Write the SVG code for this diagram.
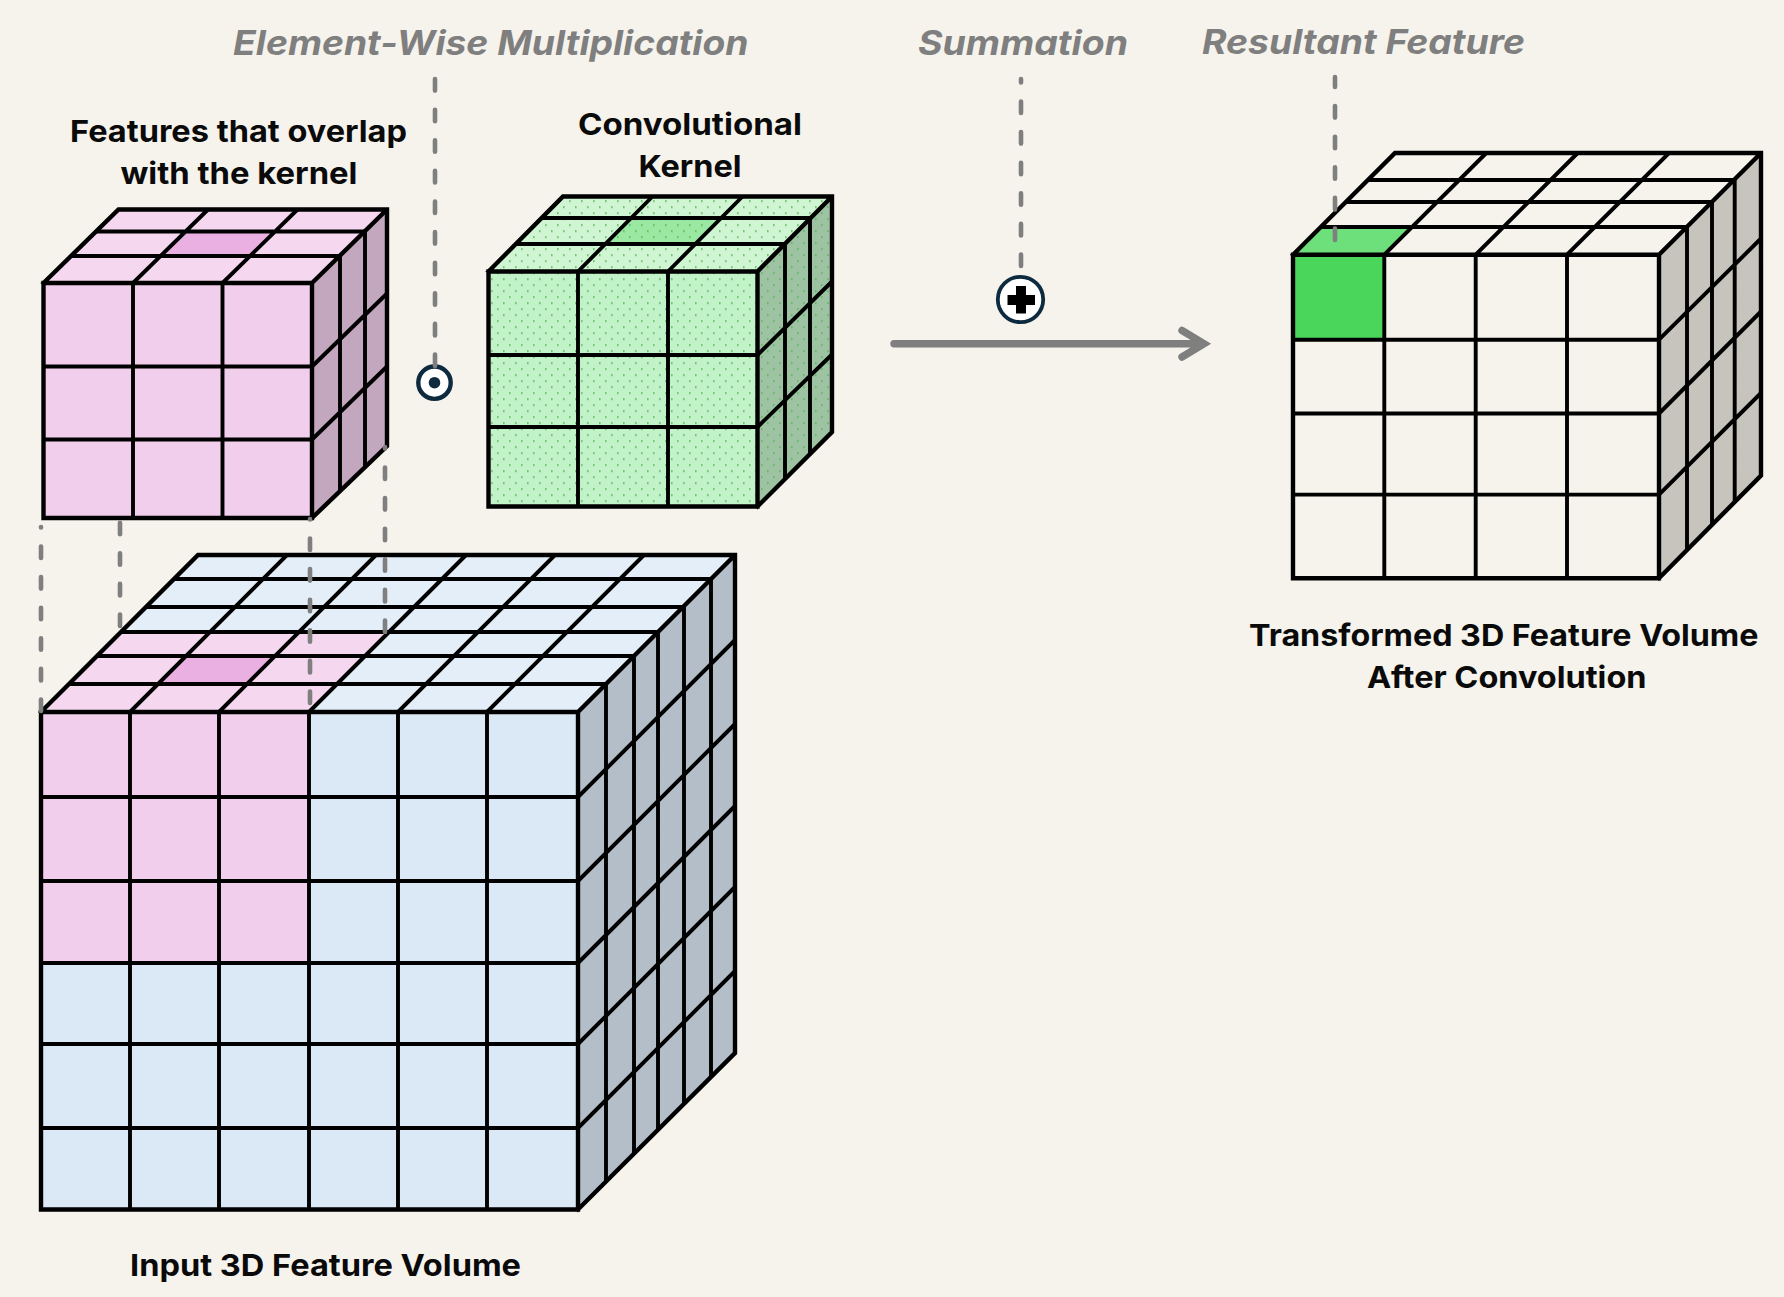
<svg xmlns="http://www.w3.org/2000/svg" width="1784" height="1297" viewBox="0 0 1784 1297">
<style>
.t{font-family:"Inter","Liberation Sans",sans-serif;font-weight:700;font-size:30.5px;fill:#0a0a0a}
.h{font-family:"Inter","Liberation Sans",sans-serif;font-weight:700;font-style:italic;font-size:34px;fill:#7f7f7f}
.g{fill:none;stroke:#000;stroke-width:3.9;stroke-linejoin:miter;stroke-linecap:butt}
.o{fill:none;stroke:#000;stroke-width:4.4;stroke-linejoin:miter;stroke-miterlimit:2;stroke-linecap:square}
.d{fill:none;stroke:#7f7f7f;stroke-width:4.6;stroke-linecap:round;stroke-dasharray:11.5 19.1}
.c{fill:#fff;stroke:#0e2a3f}
</style>
<defs>
<pattern id="dots" patternUnits="userSpaceOnUse" x="491" y="278.3" width="12" height="12">
<rect x="0" y="0" width="1.6" height="1.6" fill="#55b455"/>
<rect x="6" y="6" width="1.6" height="1.6" fill="#55b455"/>
</pattern>
</defs>
<rect width="1784" height="1297" fill="#f5f3ec"/>

<g id="input-volume">
<rect x="41" y="712" width="537" height="497.5" fill="#dbe9f6"/>
<polygon points="41,712 578,712 735,555 198,555" fill="#e3eef8"/>
<polygon points="578,712 735,555 735,1053 578,1209.5" fill="#b3bec9"/>
<rect x="41" y="712" width="268" height="251" fill="#f1ceec"/>
<polygon points="41,712 309,712 389,632 121,632" fill="#f5d8f0"/>
<polygon points="158,684 247,684 275,656 186,656" fill="#eab0e2"/>
<path class="g" d="M130 712V1209.5M219 712V1209.5M309 712V1209.5M398 712V1209.5M487 712V1209.5M41 797H578M41 881H578M41 963H578M41 1044H578M41 1128H578"/>
<path class="g" d="M130 712L287 555M219 712L376 555M309 712L466 555M398 712L555 555M487 712L644 555M69 684H606M97 656H634M121 632H658M147 607H684M174 579H711"/>
<path class="g" d="M606 684V1181.5M634 656V1153.5M658 632V1129.5M684 607V1104M711 579V1076.5M578 797L735 640M578 881L735 724M578 963L735 806M578 1044L735 887M578 1128L735 971"/>
<path class="o" d="M41 712H578V1209.5H41ZM41 712L198 555H735L578 712M735 555V1053L578 1209.5"/>
</g>

<g id="overlap-features">
<rect x="43.5" y="283" width="268.5" height="235" fill="#f1ceec"/>
<polygon points="43.5,283 312,283 387,209.5 118.5,209.5" fill="#f5d8f0"/>
<polygon points="312,283 387,209.5 387,446 312,518" fill="#c3a7be"/>
<polygon points="161,256 250.5,256 275,231.5 185.5,231.5" fill="#eab0e2"/>
<path class="g" d="M133 283V518M222.5 283V518M43.5 366.5H312M43.5 439.5H312"/>
<path class="g" d="M133 283L208 209.5M222.5 283L297.5 209.5M71 256H340M96 231.5H365"/>
<path class="g" d="M340 256V491M365 231.5V466.5M312 366.5L387 293.5M312 439.5L387 366.5"/>
<path class="o" d="M43.5 283H312V518H43.5ZM43.5 283L118.5 209.5H387L312 283M387 209.5V446L312 518"/>
</g>

<g id="kernel">
<rect x="488.5" y="271.5" width="269" height="235" fill="#c2f2c8"/>
<polygon points="488.5,271.5 757.5,271.5 832,196.5 563,196.5" fill="#cff5d3"/>
<polygon points="757.5,271.5 832,196.5 832,432 757.5,506.5" fill="#9ec3a2"/>
<polygon points="605.3,244 695.3,244 721.1,218 631.1,218" fill="#9be8a2"/>
<rect x="488.5" y="271.5" width="269" height="235" fill="url(#dots)"/>
<polygon points="488.5,271.5 757.5,271.5 832,196.5 563,196.5" fill="url(#dots)"/>
<polygon points="757.5,271.5 832,196.5 832,432 757.5,506.5" fill="url(#dots)"/>
<path class="g" d="M578 271.5V506.5M668 271.5V506.5M488.5 355H757.5M488.5 427H757.5"/>
<path class="g" d="M578 271.5L652.5 196.5M668 271.5L742.5 196.5M516 244H785M541.5 218H810"/>
<path class="g" d="M785 244V479M810 218V453M757.5 355L832 281.5M757.5 427L832 354.5"/>
<path class="o" d="M488.5 271.5H757.5V506.5H488.5ZM488.5 271.5L563 196.5H832L757.5 271.5M832 196.5V432L757.5 506.5"/>
</g>

<g id="output-volume">
<polygon points="1659,254.7 1761,153 1761,475.5 1659,578.2" fill="#c6c4bc"/>
<rect x="1293" y="254.7" width="91.3" height="85" fill="#49d65b"/>
<polygon points="1293,254.7 1384.3,254.7 1412.3,227 1321,227" fill="#6ddf7b"/>
<path class="g" d="M1384.3 254.7V578.2M1475.7 254.7V578.2M1567 254.7V578.2M1293 339.7H1659M1293 413.5H1659M1293 494.6H1659"/>
<path class="g" d="M1384.3 254.7L1486.3 153M1475.7 254.7L1577.7 153M1567 254.7L1669 153M1321 227H1687M1346 202H1712M1369 180H1734.7"/>
<path class="g" d="M1687 227V550.5M1712 202V525.5M1734.7 180V503M1659 339.7L1761 238.5M1659 413.5L1761 311.5M1659 494.6L1761 393"/>
<path class="o" d="M1293 254.7H1659V578.2H1293ZM1293 254.7L1395 153H1761L1659 254.7M1761 153V475.5L1659 578.2"/>
</g>

<g id="multiply-symbol">
<circle class="c" cx="434.5" cy="382.7" r="16.2" stroke-width="4.4"/>
<circle cx="434.5" cy="382.7" r="5.8" fill="#0e2a3f"/>
</g>

<g id="sum-symbol">
<circle class="c" cx="1020.5" cy="299.5" r="22.7" stroke-width="3.8"/>
<path d="M1016 286H1026V295H1035V305H1026V313.5H1016V305H1007.5V295H1016Z" fill="#000"/>
</g>

<g id="connectors">
<path class="d" d="M435 366V78"/>
<path class="d" d="M1021 266V79"/>
<path class="d" d="M1335 240V77"/>
<path class="d" d="M41 711V527"/>
<path class="d" d="M120 626V522"/>
<path class="d" d="M310 703V519"/>
<path class="d" d="M385 632V447"/>
<path d="M894 343.7H1203M1182 330.5L1204 343.7L1182 357" fill="none" stroke="#7f7f7f" stroke-width="7.4" stroke-linecap="round" stroke-linejoin="miter"/>
</g>

<g id="labels">
<text class="h" x="233" y="54.5" textLength="515.5" lengthAdjust="spacingAndGlyphs">Element-Wise Multiplication</text>
<text class="h" x="918" y="54.5" textLength="210" lengthAdjust="spacingAndGlyphs">Summation</text>
<text class="h" x="1202" y="54" textLength="323" lengthAdjust="spacingAndGlyphs">Resultant Feature</text>
<text class="t" x="70" y="142" textLength="337" lengthAdjust="spacingAndGlyphs">Features that overlap</text>
<text class="t" x="120.5" y="184" textLength="237" lengthAdjust="spacingAndGlyphs">with the kernel</text>
<text class="t" x="578" y="135" textLength="224" lengthAdjust="spacingAndGlyphs">Convolutional</text>
<text class="t" x="638.5" y="177" textLength="103" lengthAdjust="spacingAndGlyphs">Kernel</text>
<text class="t" x="1249" y="646" textLength="509.5" lengthAdjust="spacingAndGlyphs">Transformed 3D Feature Volume</text>
<text class="t" x="1367" y="688" textLength="279.5" lengthAdjust="spacingAndGlyphs">After Convolution</text>
<text class="t" x="130" y="1276" textLength="391" lengthAdjust="spacingAndGlyphs">Input 3D Feature Volume</text>
</g>
</svg>
